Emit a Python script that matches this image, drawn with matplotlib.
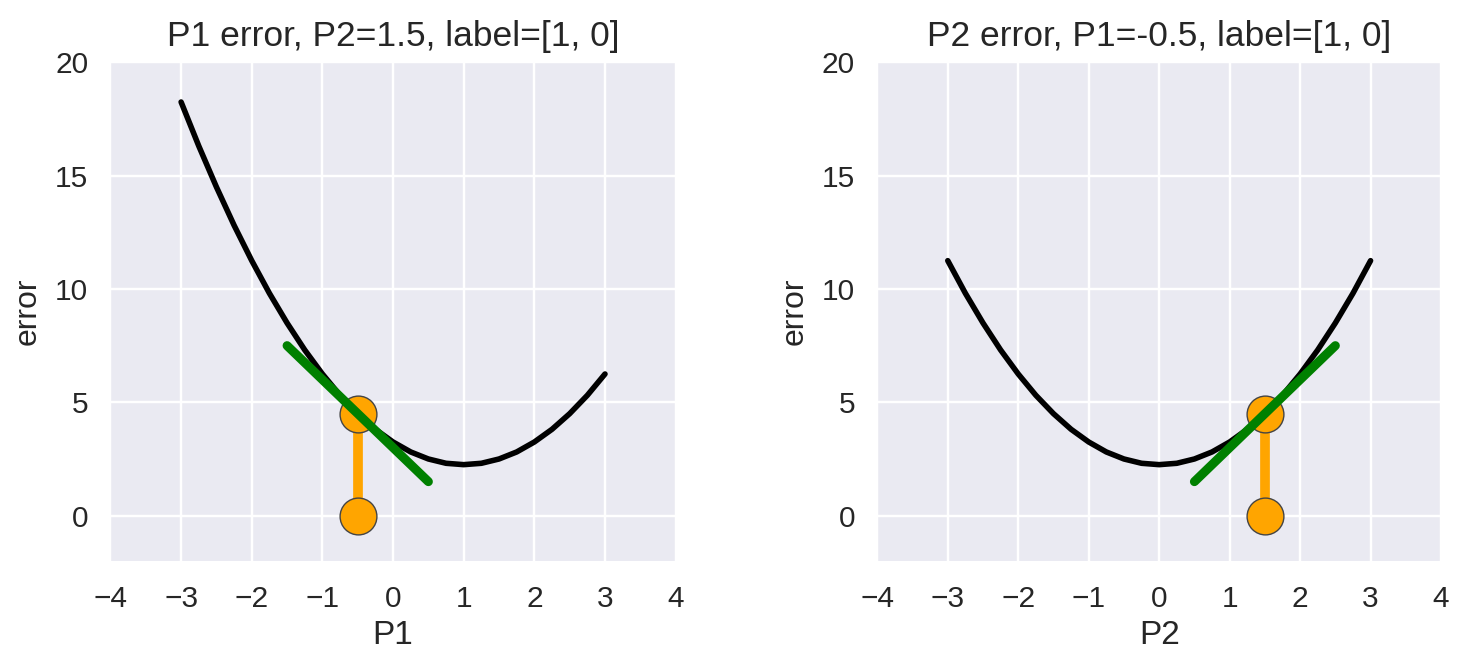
import matplotlib
matplotlib.use("Agg")
import matplotlib.pyplot as plt

# ---- data ----
p_grid = [-3.0, -2.75, -2.5, -2.25, -2.0, -1.75, -1.5, -1.25, -1.0, -0.75, -0.5, -0.25,
          0.0, 0.25, 0.5, 0.75, 1.0, 1.25, 1.5, 1.75, 2.0, 2.25, 2.5, 2.75, 3.0]
err_p1 = [18.25, 16.31, 14.5, 12.81, 11.25, 9.81, 8.5, 7.31, 6.25, 5.31, 4.5, 3.81,
          3.25, 2.81, 2.5, 2.31, 2.25, 2.31, 2.5, 2.81, 3.25, 3.81, 4.5, 5.31, 6.25]
err_p2 = [11.25, 9.81, 8.5, 7.31, 6.25, 5.31, 4.5, 3.81, 3.25, 2.81, 2.5, 2.31,
          2.25, 2.31, 2.5, 2.81, 3.25, 3.81, 4.5, 5.31, 6.25, 7.31, 8.5, 9.81, 11.25]

p1_point = -0.5
p2_point = 1.5
point_err = 4.5
label_level = 0.0

tan1_x = [-1.5, 0.5]
tan1_y = [7.5, 1.5]
tan2_x = [0.5, 2.5]
tan2_y = [1.5, 7.5]

titles = ["P1 error, P2=1.5, label=[1, 0]", "P2 error, P1=-0.5, label=[1, 0]"]
xlabels = ["P1", "P2"]
xticks = [-4, -3, -2, -1, 0, 1, 2, 3, 4]
yticks = [0, 5, 10, 15, 20]

# ---- style ----
plt.rcParams['font.family'] = ['Liberation Sans', 'DejaVu Sans']
TXT = '#262626'

fig = plt.figure(figsize=(14.59, 6.52), dpi=100)
positions = [[0.0757, 0.1396, 0.3874, 0.7648], [0.6013, 0.1396, 0.3864, 0.7648]]

series = [
    (err_p1, p1_point, tan1_x, tan1_y),
    (err_p2, p2_point, tan2_x, tan2_y),
]

for i, (errs, pt, tx, ty) in enumerate(series):
    ax = fig.add_axes(positions[i])
    ax.set_facecolor('#EAEAF2')
    for s in ax.spines.values():
        s.set_visible(False)
    ax.grid(True, color='white', linewidth=1.75, zorder=0)
    ax.set_axisbelow(True)

    ax.plot(p_grid, errs, color='black', linewidth=4, zorder=2, solid_capstyle='round')
    ax.plot([pt, pt], [point_err, label_level], color='orange', linewidth=7, zorder=3,
            marker='o', markersize=26.5, markerfacecolor='orange',
            markeredgecolor='#444444', markeredgewidth=1)
    ax.plot(tx, ty, color='green', linewidth=6.5, zorder=4, solid_capstyle='round')

    ax.set_xlim(-4, 4)
    ax.set_ylim(-2, 20)
    ax.set_xticks(xticks)
    ax.set_yticks(yticks)
    ax.tick_params(axis='both', length=0, labelsize=21.5, labelcolor=TXT)
    ax.tick_params(axis='x', pad=17)
    ax.tick_params(axis='y', pad=16)
    ax.set_title(titles[i], fontsize=25.5, color=TXT, pad=12)
    ax.set_xlabel(xlabels[i], fontsize=24, color=TXT, labelpad=5)
    ax.set_ylabel('error', fontsize=23, color=TXT, labelpad=9)

fig.savefig('out.png', dpi=100, facecolor='white')
